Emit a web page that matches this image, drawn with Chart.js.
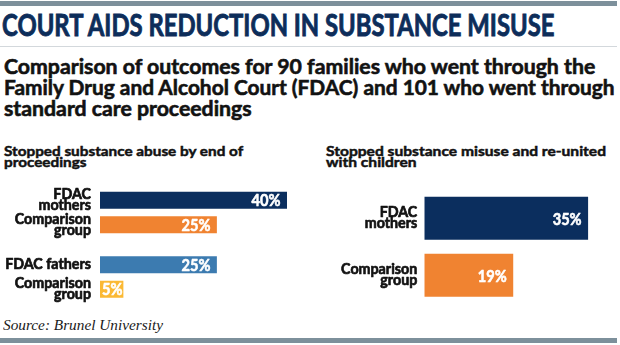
<!DOCTYPE html>
<html>
<head>
<meta charset="utf-8">
<script src="https://cdn.jsdelivr.net/npm/chart.js@4.4.1/dist/chart.umd.min.js"></script>
<style>
  html, body { margin: 0; padding: 0; background: #fff; }
  body { width: 620px; height: 345px; position: relative; overflow: hidden; }
  .rule { position: absolute; left: 0; width: 617px; background: #7d909b; }
  .hair { position: absolute; left: 0; width: 617px; height: 1px; background: #d3d8dc; }
  .txt { position: absolute; white-space: nowrap; transform-origin: 0 0; }
  .panel { position: absolute; top: 175px; width: 310px; height: 140px; }
</style>
</head>
<body>
<div class="rule" style="top:1px;height:5px"></div>
<div class="hair" style="top:46px"></div>
<div class="rule" style="top:338px;height:5px"></div>
<div class="panel" style="left:0"><canvas id="abuseChart" width="310" height="140"></canvas></div>
<div class="panel" style="left:310px"><canvas id="reunitedChart" width="310" height="140"></canvas></div>

<script>
// ---- text ----
const titleText = 'COURT AIDS REDUCTION IN SUBSTANCE MISUSE';
const subtitleLines = [
  'Comparison of outcomes for 90 families who went through the',
  'Family Drug and Alcohol Court (FDAC) and 101 who went through',
  'standard care proceedings'
];
const abuseHeader = ['Stopped substance abuse by end of', 'proceedings'];
const reunitedHeader = ['Stopped substance misuse and re-united', 'with children'];
const sourceText = 'Source: Brunel University';

// ---- data: stopped substance abuse by end of proceedings (%) ----
const parentGroups = ['Mothers', 'Fathers'];
const fdacValues = [40, 25];
const comparisonValues = [25, 5];
const fdacLabels = [['FDAC', 'mothers'], ['FDAC fathers']];
const comparisonLabels = [['Comparison', 'group'], ['Comparison', 'group']];

// ---- data: stopped substance misuse and re-united with children (%) ----
const reunitedCategories = [['FDAC', 'mothers'], ['Comparison', 'group']];
const reunitedValues = [35, 19];

// ---- palette ----
const NAVY = '#0b2e5e';
const ORANGE = '#f08331';
const STEEL = '#3c7bb0';
const YELLOW = '#fbb934';
const INK = '#121212';

// ---- HTML text lines placed on a baseline, squeezed to a set width ----
const measureCtx = document.createElement('canvas').getContext('2d');
function placeLine(text, font, color, x, baseline, lineH, targetW, fixedScale, stroke) {
  const el = document.createElement('div');
  el.className = 'txt';
  el.textContent = text;
  el.style.font = font;
  el.style.lineHeight = lineH + 'px';
  el.style.color = color;
  if (stroke) el.style.webkitTextStroke = stroke + 'px ' + color;
  document.body.appendChild(el);
  measureCtx.font = font;
  const m = measureCtx.measureText(text);
  const asc = m.fontBoundingBoxAscent, desc = m.fontBoundingBoxDescent;
  el.style.left = x + 'px';
  el.style.top = (baseline - ((lineH - (asc + desc)) / 2 + asc)) + 'px';
  const s = fixedScale || targetW / m.width;
  el.style.transform = 'scaleX(' + s + ')';
  return s;
}

placeLine(titleText, "bold 31px 'Liberation Sans Narrow', Lato, sans-serif", '#0d2d5a', 2, 36, 34, 554, 0, 0.9);

const subFont = "bold 21px Lato, 'Open Sans', sans-serif";
const s1 = placeLine(subtitleLines[0], subFont, INK, 3.5, 74.3, 22, 593, 0, 0.6);
placeLine(subtitleLines[1], subFont, INK, 3.5, 95.8, 22, 612.5, 0, 0.6);
placeLine(subtitleLines[2], subFont, INK, 3.5, 116.8, 22, 0, s1, 0.6);

const headFont = "bold 14px Lato, 'Open Sans', sans-serif";
const hs = placeLine(abuseHeader[0], headFont, INK, 3.5, 156.4, 12, 239.5, 0, 0.5);
placeLine(abuseHeader[1], headFont, INK, 3.5, 167.7, 12, 0, hs, 0.5);
const hs2 = placeLine(reunitedHeader[0], headFont, INK, 326, 156.6, 12, 280, 0, 0.5);
placeLine(reunitedHeader[1], headFont, INK, 326, 167.2, 12, 0, hs2, 0.5);

placeLine(sourceText, "italic 14px 'Liberation Serif', 'DejaVu Serif', serif", '#1a1a1a', 3, 330.7, 16, 160);

// ---- bar labels: category text left of each bar, value inside its end ----
function drawSqueezed(ctx, text, x, y, scale, weight) {
  ctx.save();
  ctx.translate(x, y);
  ctx.scale(scale, 1);
  ctx.fillText(text, 0, 0);
  ctx.lineWidth = weight;
  ctx.lineJoin = 'round';
  ctx.strokeStyle = ctx.fillStyle;
  ctx.strokeText(text, 0, 0);
  ctx.restore();
}

const barText = {
  id: 'barText',
  afterDatasetsDraw(chart, args, opts) {
    const ctx = chart.ctx;
    chart.data.datasets.forEach((ds, di) => {
      const meta = chart.getDatasetMeta(di);
      meta.data.forEach((bar, i) => {
        const lines = ds.barLabels[i];
        ctx.save();
        ctx.textBaseline = 'alphabetic';
        // category label
        ctx.fillStyle = INK;
        ctx.font = "bold 15.5px Lato, 'Open Sans', sans-serif";
        ctx.textAlign = 'right';
        const lx = chart.chartArea.left - opts.gap;
        const first = bar.y + 4.5 - (lines.length - 1) * opts.lineStep / 2;
        lines.forEach((t, k) => drawSqueezed(ctx, t, lx, first + k * opts.lineStep, 0.92, 0.7));
        // value label
        const txt = ds.data[i] + '%';
        ctx.font = "bold 17px Lato, 'Open Sans', sans-serif";
        ctx.fillStyle = '#ffffff';
        const vs = 0.86;
        const w = ctx.measureText(txt).width * vs;
        let right = bar.x - 6.5;
        if (right - w < bar.base + 2) right = bar.base + 2 + w;
        drawSqueezed(ctx, txt, right, bar.y + 6.2, vs, 0.6);
        ctx.restore();
      });
    });
  }
};

const baseOptions = (padding, max) => ({
  indexAxis: 'y',
  responsive: false,
  animation: false,
  events: [],
  layout: { padding },
  scales: {
    x: { display: false, min: 0, max },
    y: { display: false }
  },
  plugins: {
    legend: { display: false },
    tooltip: { enabled: false },
    barText: { gap: 9, lineStep: 11 }
  }
});

const abuseOpts = baseOptions({ left: 100, right: 4.3, top: 5.3, bottom: 5.9 }, 44);
new Chart(document.getElementById('abuseChart'), {
  type: 'bar',
  data: {
    labels: parentGroups,
    datasets: [
      { data: fdacValues, backgroundColor: [NAVY, STEEL], barLabels: fdacLabels,
        borderWidth: 0, categoryPercentage: 0.761, barPercentage: 0.694 },
      { data: comparisonValues, backgroundColor: [ORANGE, YELLOW], barLabels: comparisonLabels,
        borderWidth: 0, categoryPercentage: 0.761, barPercentage: 0.694 }
    ]
  },
  options: abuseOpts,
  plugins: [barText]
});

const reunitedOpts = baseOptions({ left: 114.3, right: 8.5, top: 14.8, bottom: 11.2 }, 40);
reunitedOpts.plugins.barText.gap = 7;
new Chart(document.getElementById('reunitedChart'), {
  type: 'bar',
  data: {
    labels: reunitedCategories.map(l => l.join(' ')),
    datasets: [
      { data: reunitedValues, backgroundColor: [NAVY, ORANGE], barLabels: reunitedCategories,
        borderWidth: 0, categoryPercentage: 1, barPercentage: 0.754 }
    ]
  },
  options: reunitedOpts,
  plugins: [barText]
});
</script>
</body>
</html>
